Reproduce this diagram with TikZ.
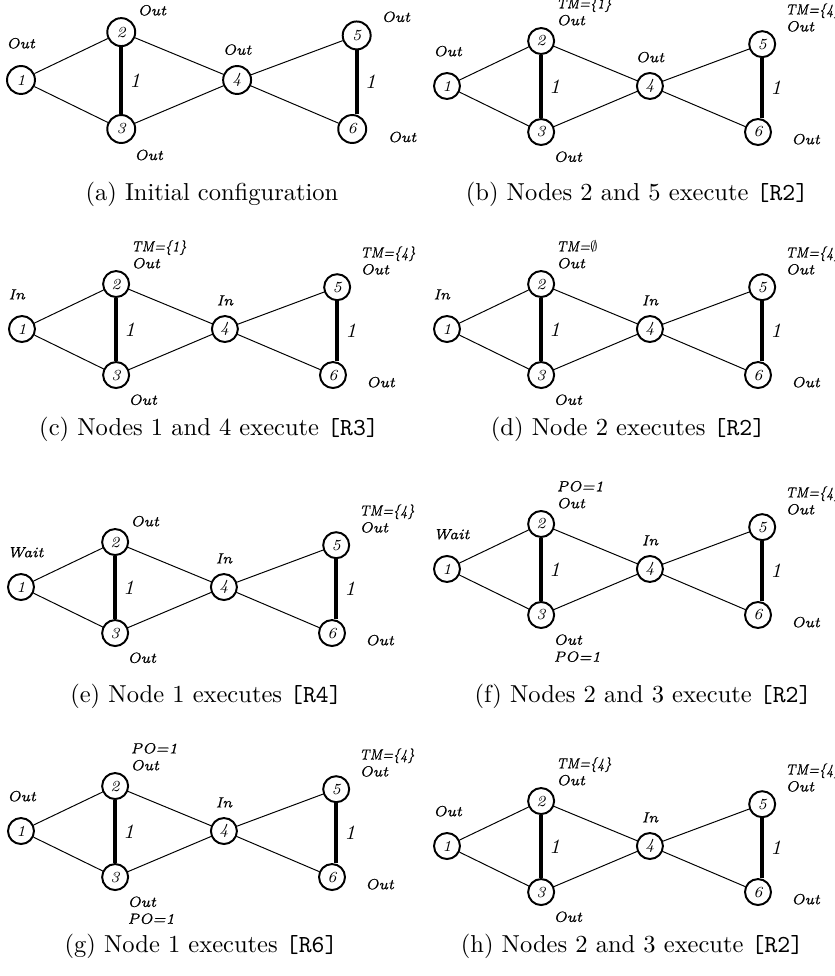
\documentclass[tikz,border=0pt]{standalone}
\usepackage{tikz}
\usepackage{graphicx}
\usepackage{fontspec}
\usetikzlibrary{calc,positioning}
\newfontfamily\statefont{lmroman7-italic}[Extension=.otf,FakeBold=0.8]
\tikzset{
  vtx/.style={circle,draw,thick,inner sep=0pt,minimum size=10.6pt,font=\fontsize{6.3}{7}\selectfont\itshape},
  lnk/.style={line width=0.4pt},
  heavy/.style={line width=1.6pt},
  wgt/.style={right,inner sep=2.5pt,font=\fontsize{8.3}{10}\selectfont\itshape},
  st/.style={inner sep=0pt,align=left,font=\fontsize{6}{6.9}\selectfont\statefont},
  subcap/.style={anchor=base,inner sep=0pt}
}
\newcommand{\tmset}[1]{\scalebox{0.82}[1]{TM=#1}}
\newcommand{\netgraph}[1]{%
  \def\netf{#1}
  \node[vtx] (n1) at (0,0) {1};
  \node[vtx] (n2) at (1.35*#1,0.645*#1) {2};
  \node[vtx] (n3) at (1.35*#1,-0.66*#1) {3};
  \node[vtx] (n4) at (2.91*#1,0) {4};
  \node[vtx] (n5) at (4.52*#1,0.60*#1) {5};
  \node[vtx] (n6) at (4.46*#1,-0.66*#1) {6};
  \draw[lnk] (n1) -- (n2) (n1) -- (n3) (n2) -- (n4) (n3) -- (n4) (n4) -- (n5) (n4) -- (n6);
  \draw[heavy] (n2) -- node[wgt] {1} (n3);
  \draw[heavy] (n5) -- node[wgt] {1} (n5 |- n6.north);
}
\newcommand{\netstates}[6]{%
  \node[st,anchor=south west] (s1) at ($(n1.west)+(0,0.416*\netf)$) {#1};
  \node[st,anchor=south west] (s2) at ($(n2)+(0.215*\netf,0.215*\netf)$) {#2};
  \node[st,anchor=north west] (s3) at ($(n3)+(0.172*\netf,-0.272*\netf)$) {#3};
  \node[st,anchor=south] (s4) at ($(n4)+(0,0.33*\netf)$) {#4};
  \node[st,anchor=south west] (s5) at ($(n5)+(0.33*\netf,0.172*\netf)$) {#5};
  \node[st,anchor=south west] (s6) at ($(n6)+(0.473*\netf,-0.186*\netf)$) {#6};
}

\begin{document}
\begin{tikzpicture}
\useasboundingbox (0,0) rectangle (11.974,-13.996);

\begin{scope}[shift={(0.301,-1.147)},name prefix=a-,vtx/.append style={minimum size=11.4pt}]
\netgraph{1.065}
\netstates{Out}{Out}{Out}{Out}{Out}{Out}
\end{scope}
\node[subcap] (ca) at (3.040,-2.868) {(a) Initial configuration};

\begin{scope}[shift={(6.410,-1.233)},name prefix=b-]
\netgraph{1}
\netstates{Out}{\tmset{\{1\}}\\Out}{Out}{Out}{\tmset{\{4\}}\\Out}{Out}
\end{scope}
\node[subcap] (cb) at (9.135,-2.882) {(b) Nodes 2 and 5 execute \texttt{[R2]}};

\begin{scope}[shift={(0.315,-4.718)},name prefix=c-]
\netgraph{1}
\netstates{In}{\tmset{\{1\}}\\Out}{Out}{In}{\tmset{\{4\}}\\Out}{Out}
\end{scope}
\node[subcap] (cc) at (2.997,-6.238) {(c) Nodes 1 and 4 execute \texttt{[R3]}};

\begin{scope}[shift={(6.410,-4.718)},name prefix=d-]
\netgraph{1}
\netstates{In}{\tmset{$\emptyset$}\\Out}{Out}{In}{\tmset{\{4\}}\\Out}{Out}
\end{scope}
\node[subcap] (cd) at (9.006,-6.238) {(d) Node 2 executes \texttt{[R2]}};

\begin{scope}[shift={(0.301,-8.418)},name prefix=e-]
\netgraph{1}
\netstates{Wait}{Out}{Out}{In}{\tmset{\{4\}}\\Out}{Out}
\end{scope}
\node[subcap] (ce) at (2.954,-10.067) {(e) Node 1 executes \texttt{[R4]}};

\begin{scope}[shift={(6.410,-8.159)},name prefix=f-]
\netgraph{1}
\netstates{Wait}{PO=1\\Out}{Out\\PO=1}{In}{\tmset{\{4\}}\\Out}{Out}
\end{scope}
\node[subcap] (cf) at (9.221,-10.067) {(f) Nodes 2 and 3 execute \texttt{[R2]}};

\begin{scope}[shift={(0.301,-11.917)},name prefix=g-]
\netgraph{1}
\netstates{Out}{PO=1\\Out}{Out\\PO=1}{In}{\tmset{\{4\}}\\Out}{Out}
\end{scope}
\node[subcap] (cg) at (2.882,-13.666) {(g) Node 1 executes \texttt{[R6]}};

\begin{scope}[shift={(6.410,-12.132)},name prefix=h-]
\netgraph{1}
\netstates{Out}{\tmset{\{4\}}\\Out}{Out}{In}{\tmset{\{4\}}\\Out}{Out}
\end{scope}
\node[subcap] (ch) at (9.063,-13.666) {(h) Nodes 2 and 3 execute \texttt{[R2]}};
\end{tikzpicture}
\end{document}
